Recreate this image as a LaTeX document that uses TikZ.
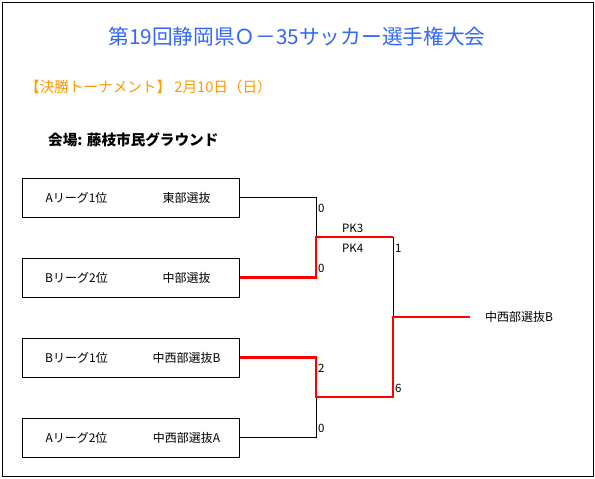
\documentclass[tikz,border=0pt]{standalone}
\usepackage{fontspec}
\setmainfont{Noto Sans CJK JP}
\usetikzlibrary{positioning}
\definecolor{titleblue}{HTML}{3366FF}
\definecolor{dateorange}{HTML}{FF9900}

\begin{document}
\begin{tikzpicture}[x=1pt, y=-1pt,
  every node/.style={font=\fontsize{12}{14}\selectfont, inner sep=0pt},
  teambox/.style={draw, line width=1pt, minimum width=217pt, minimum height=39pt},
  lose/.style={line width=1pt},
  win/.style={red, line width=2.1pt},
  score/.style={anchor=west, font=\fontsize{11.5}{13}\selectfont}]
  \useasboundingbox (0,0) rectangle (595,479);
  \draw[line width=1pt] (2,2) rectangle (593,476);
  % headings
  \node[text=titleblue, font=\fontsize{20.7}{24}\selectfont] (title) at (297,37) {第19回静岡県Ｏ－35サッカー選手権大会};
  \node[anchor=west, text=dateorange, font=\fontsize{14.6}{17}\selectfont] (date) at (25,87) {【決勝トーナメント】 2月10日（日）};
  \node[anchor=west, font=\bfseries\fontsize{14.6}{17}\selectfont] (venue) at (48,140) {会場: 藤枝市民グラウンド};
  % first round boxes
  \foreach \i/\y/\rank/\team in {1/197.5/Aリーグ1位/東部選抜, 2/277.5/Bリーグ2位/中部選抜,
      3/357.5/Bリーグ1位/中西部選抜B, 4/437.5/Aリーグ2位/中西部選抜A} {
    \node[teambox] (t\i) at (130.5,\y) {};
    \node (r\i) at ([xshift=-54pt]t\i.center) {\rank};
    \node (n\i) at ([xshift=56pt]t\i.center) {\team};
  }
  % bracket joins
  \coordinate (s1) at (316,237);
  \coordinate (s2) at (316,397);
  \coordinate (f1) at (393,237);
  \coordinate (f2) at (393,397);
  \coordinate (c) at (393,317);
  \coordinate (w) at (470,317);
  \node[anchor=west] (champ) at (485,317) {中西部選抜B};
  \draw[lose] (t1.east) -| (s1);
  \draw[lose] (t4.east) -| (s2);
  \draw[lose] (f1) -- (c);
  \draw[win] (t2.east) -| (s1) -- (f1);
  \draw[win] (t3.east) -| (s2) -- (f2) -- (c) -- (w);
  % scores
  \node[score] (sc1) at (318,208) {0};
  \node[score] (sc2) at (318,268) {0};
  \node[score] (pk1) at (342,228) {PK3};
  \node[score] (pk2) at (342,248) {PK4};
  \node[score] (sc3) at (318,368) {2};
  \node[score] (sc4) at (318,428) {0};
  \node[score] (sc5) at (395,248) {1};
  \node[score] (sc6) at (395,388) {6};
\end{tikzpicture}
\end{document}
